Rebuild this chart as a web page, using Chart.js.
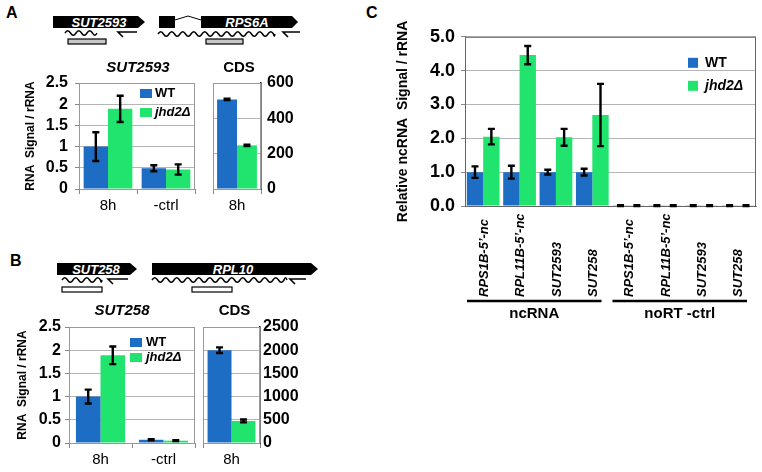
<!DOCTYPE html>
<html>
<head>
<meta charset="utf-8">
<script src="https://cdn.jsdelivr.net/npm/chart.js@4"></script>
<style>
  body { margin: 0; background: #fff; width: 762px; height: 472px; position: relative; overflow: hidden; font-family: "Liberation Sans", Arial, sans-serif; }
  canvas { position: absolute; }
  svg { position: absolute; left: 0; top: 0; }
  .panel { position: absolute; font-weight: bold; font-size: 16px; }
</style>
</head>
<body>
<div class="panel" style="left:6px;top:4px">A</div>
<div class="panel" style="left:10px;top:252px">B</div>
<div class="panel" style="left:366px;top:4px">C</div>
<svg id="genes" width="762" height="472"></svg>
<canvas id="a1" width="192" height="160" style="left:10px;top:56px"></canvas>
<canvas id="a2" width="100" height="160" style="left:200px;top:56px"></canvas>
<canvas id="b1" width="200" height="170" style="left:0px;top:300px"></canvas>
<canvas id="b2" width="110" height="170" style="left:196px;top:300px"></canvas>
<canvas id="c1" width="387" height="300" style="left:375px;top:20px"></canvas>
<script>
// ---- data ----
const timeLabels = ['8h', '-ctrl'];
const cdsLabels = ['8h'];

// A: SUT2593 / RPS6A CDS
const sut2593WT = [1.0, 0.49];
const sut2593WTErr = [0.34, 0.07];
const sut2593KO = [1.89, 0.46];
const sut2593KOErr = [0.31, 0.12];
const rps6aWT = [507];
const rps6aWTErr = [4];
const rps6aKO = [247];
const rps6aKOErr = [4];

// B: SUT258 / RPL10 CDS
const sut258WT = [1.0, 0.07];
const sut258WTErr = [0.15, 0.01];
const sut258KO = [1.89, 0.05];
const sut258KOErr = [0.19, 0.01];
const rpl10WT = [2000];
const rpl10WTErr = [60];
const rpl10KO = [475];
const rpl10KOErr = [30];

// C: relative ncRNA
const ncLabels = ["RPS1B-5\u2019-nc", "RPL11B-5\u2019-nc", "SUT2593", "SUT258",
                  "RPS1B-5\u2019-nc", "RPL11B-5\u2019-nc", "SUT2593", "SUT258"];
const ncWT = [1.0, 1.0, 1.0, 1.0, 0.01, 0.01, 0.01, 0.01];
const ncWTErr = [0.17, 0.19, 0.07, 0.1, 0.01, 0.01, 0.01, 0.01];
const ncKO = [2.05, 4.46, 2.03, 2.69, 0.01, 0.01, 0.01, 0.01];
const ncKOErr = [0.23, 0.27, 0.25, 0.92, 0.01, 0.01, 0.01, 0.01];
const ncGroups = [{ label: 'ncRNA', from: 0, to: 3 }, { label: 'noRT -ctrl', from: 4, to: 7 }];

const F = '"Liberation Sans", Arial, sans-serif';
const BLUE = '#1e6dc4';
const GREEN = '#20e46e';

// ---- gene diagrams (svg) ----
function wave(x0, x1, y, amp = 2.2, half = 5.5) {
  let d = `M${x0},${y}`, up = true;
  for (let x = x0; x < x1 - 0.1; x += half) {
    const nx = Math.min(x + half, x1);
    d += ` Q${(x + nx) / 2},${y + (up ? -2 * amp : 2 * amp)} ${nx},${y}`;
    up = !up;
  }
  return `<path d="${d}" fill="none" stroke="#000" stroke-width="1.5"/>`;
}
function arrowBox(x0, x1, tip, y0, y1) {
  const m = (y0 + y1) / 2;
  return `<polygon points="${x0},${y0} ${x1},${y0} ${tip},${m} ${x1},${y1} ${x0},${y1}" fill="#000"/>`;
}
function geneText(x, y, t) {
  return `<text x="${x}" y="${y}" fill="#fff" font-family='${F}' font-size="13" font-weight="bold" font-style="italic" text-anchor="middle" dominant-baseline="central">${t}</text>`;
}
function primer(x0, x1, y) {
  return `<path d="M${x1},${y} L${x0},${y} L${x0 + 5},${y + 5}" fill="none" stroke="#000" stroke-width="1.6"/>`;
}
function probe(x, y, w, fill) {
  return `<rect x="${x}" y="${y}" width="${w}" height="5" fill="${fill}" stroke="#000" stroke-width="1.2"/>`;
}
document.getElementById('genes').innerHTML =
  arrowBox(53, 138, 145, 16, 28) + geneText(99, 22.5, 'SUT2593') +
  wave(65, 97, 33) + probe(68, 39, 38, '#c8c8c8') + primer(118, 137, 32) +
  '<rect x="159" y="16" width="16" height="12" fill="#000"/>' +
  '<polyline points="175,20 188,16 201,20" fill="none" stroke="#000" stroke-width="1"/>' +
  arrowBox(201, 292, 298, 16, 28) + geneText(247, 22.5, 'RPS6A') +
  wave(158, 275, 34) + probe(206, 39, 37, '#c8c8c8') + primer(283, 300, 32) +
  arrowBox(57, 130, 137, 263, 275) + geneText(96, 269.5, 'SUT258') +
  wave(62, 102, 280) + probe(62, 287, 40, '#fff') + primer(108, 128, 279) +
  arrowBox(152, 311, 318, 263, 275) + geneText(233, 269.5, 'RPL10') +
  wave(152, 287, 280) + probe(192, 287, 40, '#fff') + primer(290, 306, 279);

// ---- chart decorations: frame, error bars, titles, legends, custom labels ----
const decor = {
  id: 'decor',
  beforeDatasetsDraw(chart, args, o) {
    const { ctx, chartArea: a } = chart;
    ctx.save();
    ctx.strokeStyle = o.frame || '#999';
    ctx.lineWidth = 1;
    ctx.strokeRect(a.left + 0.5, a.top + 0.5, a.width - 1, a.height);
    ctx.restore();
  },
  afterDatasetsDraw(chart, args, o) {
    const { ctx } = chart;
    const y = chart.scales.y;
    ctx.save();
    ctx.strokeStyle = '#000';
    ctx.lineWidth = 2.4;
    (o.errors || []).forEach((errs, di) => {
      const vals = chart.data.datasets[di].data;
      chart.getDatasetMeta(di).data.forEach((bar, i) => {
        const t = y.getPixelForValue(vals[i] + errs[i]);
        const b = y.getPixelForValue(vals[i] - errs[i]);
        const c = o.cap || 3.5;
        ctx.beginPath();
        ctx.moveTo(bar.x, t); ctx.lineTo(bar.x, b);
        ctx.moveTo(bar.x - c, t); ctx.lineTo(bar.x + c, t);
        ctx.moveTo(bar.x - c, b); ctx.lineTo(bar.x + c, b);
        ctx.stroke();
      });
    });
    ctx.restore();
  },
  afterDraw(chart, args, o) {
    const { ctx, chartArea: a } = chart;
    ctx.save();
    ctx.fillStyle = '#000';
    if (o.title) {
      ctx.font = `italic bold 15px ${F}`;
      if (o.title.plain) ctx.font = `bold 15px ${F}`;
      ctx.textAlign = 'center';
      ctx.textBaseline = 'middle';
      ctx.fillText(o.title.text, (a.left + a.right) / 2 + o.title.dx, a.top - o.title.dy);
    }
    if (o.legend) {
      const L = o.legend;
      chart.data.datasets.forEach((ds, i) => {
        const bx = a.left + L.dx, by = a.top + L.dy + i * L.gap;
        ctx.fillStyle = ds.backgroundColor;
        ctx.fillRect(bx, by, L.w, L.h);
        ctx.fillStyle = '#000';
        ctx.font = `${i === 1 ? 'italic ' : ''}bold ${L.size}px ${F}`;
        ctx.textAlign = 'left';
        ctx.textBaseline = 'middle';
        ctx.fillText(ds.label, bx + L.tx, by + L.h / 2);
      });
    }
    if (o.rotLabels) {
      const x = chart.scales.x;
      ctx.font = `italic bold 13px ${F}`;
      ctx.textAlign = 'left';
      ctx.textBaseline = 'middle';
      chart.data.labels.forEach((lab, i) => {
        ctx.save();
        ctx.translate(x.getPixelForValue(i) + 1, o.rotLabels.base);
        ctx.rotate(-Math.PI / 2);
        ctx.fillText(lab, 0, 0);
        ctx.restore();
      });
      const half = (x.getPixelForValue(1) - x.getPixelForValue(0)) / 2;
      ctx.lineWidth = 2.5;
      ctx.font = `bold 15px ${F}`;
      ctx.textAlign = 'center';
      o.rotLabels.groups.forEach(g => {
        const x0 = x.getPixelForValue(g.from) - half + 2;
        const x1 = x.getPixelForValue(g.to) + half - 9;
        ctx.beginPath();
        ctx.moveTo(x0, o.rotLabels.line); ctx.lineTo(x1, o.rotLabels.line);
        ctx.stroke();
        ctx.fillText(g.label, (x0 + x1) / 2, o.rotLabels.line + 13);
      });
    }
    ctx.restore();
  }
};
Chart.register(decor);

function barData(labels, wt, ko, pct) {
  return {
    labels,
    datasets: [
      { label: 'WT', data: wt, backgroundColor: BLUE, categoryPercentage: pct, barPercentage: 1 },
      { label: 'jhd2\u0394', data: ko, backgroundColor: GREEN, categoryPercentage: pct, barPercentage: 1 }
    ]
  };
}

function xAxis(height, show = true) {
  return {
    ticks: { display: show, color: '#000', font: { family: F, size: 15 }, padding: 3 },
    grid: { display: show, drawOnChartArea: false, tickLength: 5, color: '#888' },
    border: { display: true, color: '#888' },
    afterFit: s => { s.height = height; }
  };
}

function leftAxis(width, max, step, fmt, title, titlePad, size = 15, tickPad = 5) {
  return {
    position: 'left', min: 0, max,
    ticks: { stepSize: step, autoSkip: false, color: '#000', font: { family: F, size, weight: 'bold' }, padding: tickPad, callback: fmt },
    grid: { color: '#b5b5b5', tickLength: 4, tickColor: '#888' },
    border: { color: '#888' },
    title: { display: true, text: title, color: '#000', font: { family: F, size: title.length > 20 ? 14 : 12, weight: 'bold' }, padding: { top: titlePad, bottom: 0 } },
    afterFit: s => { s.width = width; }
  };
}

function rightAxis(width, max, step, pad) {
  return {
    position: 'right', min: 0, max,
    ticks: { stepSize: step, autoSkip: false, color: '#000', font: { family: F, size: 16, weight: 'bold' }, padding: pad, callback: v => String(v) },
    grid: { color: '#b5b5b5', drawTicks: false },
    border: { color: '#000', width: 1.5 },
    afterFit: s => { s.width = width; }
  };
}

function baseOptions(padding, scales, decorOpts) {
  return {
    responsive: false,
    animation: false,
    layout: { padding },
    scales,
    plugins: { legend: { display: false }, tooltip: { enabled: false }, decor: decorOpts }
  };
}

const plain = v => String(v);

// A left: SUT2593
new Chart(document.getElementById('a1'), {
  type: 'bar',
  data: barData(timeLabels, sut2593WT, sut2593KO, 0.84),
  options: baseOptions({ left: 0, top: 27, right: 7, bottom: 0 },
    { x: xAxis(27), y: leftAxis(69, 2.5, 0.5, plain, 'RNA  Signal / rRNA', 13, 16, 7) },
    { errors: [sut2593WTErr, sut2593KOErr], title: { text: 'SUT2593', dx: 1, dy: 15 },
      legend: { dx: 61, dy: 6, gap: 19, w: 12, h: 9, tx: 15, size: 13 } })
});

// A right: RPS6A CDS
new Chart(document.getElementById('a2'), {
  type: 'bar',
  data: barData(cdsLabels, rps6aWT, rps6aKO, 0.83),
  options: baseOptions({ left: 13, top: 27, right: 0, bottom: 0 },
    { x: xAxis(27), y: rightAxis(39, 600, 200, 6) },
    { errors: [rps6aWTErr, rps6aKOErr], title: { text: 'CDS', dx: 2, dy: 15, plain: true } })
});

// B left: SUT258
new Chart(document.getElementById('b1'), {
  type: 'bar',
  data: barData(timeLabels, sut258WT, sut258KO, 0.78),
  options: baseOptions({ left: 0, top: 27, right: 5, bottom: 0 },
    { x: xAxis(27), y: leftAxis(69, 2.5, 0.5, plain, 'RNA  Signal / rRNA', 15, 16, 4) },
    { errors: [sut258WTErr, sut258KOErr], title: { text: 'SUT258', dx: -10, dy: 16 },
      legend: { dx: 61, dy: 11, gap: 15, w: 12, h: 9, tx: 16, size: 13 } })
});

// B right: RPL10 CDS
new Chart(document.getElementById('b2'), {
  type: 'bar',
  data: barData(cdsLabels, rpl10WT, rpl10KO, 0.84),
  options: baseOptions({ left: 7, top: 27, right: 0, bottom: 0 },
    { x: xAxis(27), y: rightAxis(46, 2500, 500, 3) },
    { errors: [rpl10WTErr, rpl10KOErr], title: { text: 'CDS', dx: 3, dy: 16, plain: true } })
});

// C: relative ncRNA signal
new Chart(document.getElementById('c1'), {
  type: 'bar',
  data: barData(ncLabels, ncWT, ncKO, 0.9),
  options: baseOptions({ left: 0, top: 13, right: 6, bottom: 0 },
    { x: xAxis(114, false),
      y: leftAxis(90, 5, 1, v => v.toFixed(1), 'Relative ncRNA  Signal / rRNA', 20, 18, 6) },
    { errors: [ncWTErr, ncKOErr], frame: '#666', cap: 3.5,
      legend: { dx: 223, dy: 21, gap: 23, w: 10, h: 10, tx: 17, size: 14 },
      rotLabels: { base: 277, line: 281, groups: ncGroups } })
});
</script>
</body>
</html>
